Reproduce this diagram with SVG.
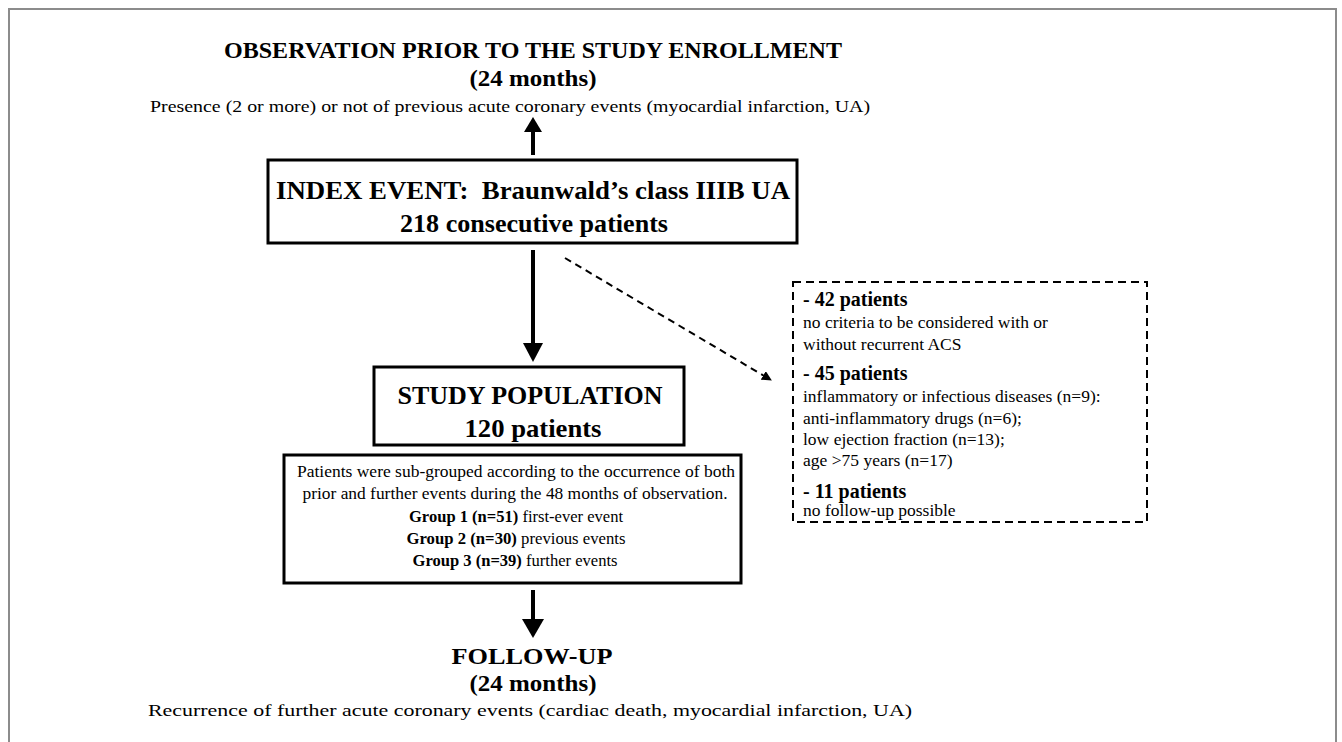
<svg xmlns="http://www.w3.org/2000/svg" width="1342" height="742" viewBox="0 0 1342 742">
<defs>
<style>
.t{font-family:"Liberation Serif","Times New Roman",serif;fill:#000}
.b{font-weight:bold}
.box{fill:#fff;stroke:#000;stroke-width:3}
.dbox{fill:none;stroke:#000;stroke-width:2;stroke-dasharray:8 5}
.shaft{stroke:#000;stroke-width:4;fill:none}
.head{fill:#000}
.eh{font-size:20px;font-weight:bold}
.eb{font-size:17.5px}
</style>
<marker id="ah" viewBox="0 0 10 10" refX="9" refY="5" markerWidth="5" markerHeight="5" orient="auto"><path d="M0,0 L10,5 L0,10 z" fill="#000"/></marker>
</defs>
<rect width="1342" height="742" fill="#fff"/>
<path d="M9,742 V9 H1336 V742" fill="none" stroke="#8c8c8c" stroke-width="2"/>

<g id="observation">
<text class="t b" x="533" y="58" font-size="23" text-anchor="middle" textLength="618" lengthAdjust="spacingAndGlyphs">OBSERVATION PRIOR TO THE STUDY ENROLLMENT</text>
<text class="t b" x="533" y="86" font-size="23" text-anchor="middle" textLength="127" lengthAdjust="spacingAndGlyphs">(24 months)</text>
<text class="t" x="510" y="112" font-size="17" text-anchor="middle" textLength="720" lengthAdjust="spacingAndGlyphs">Presence (2 or more) or not of previous acute coronary events (myocardial infarction, UA)</text>
</g>

<g id="index-event">
<rect class="box" x="268" y="160" width="529" height="83"/>
<text class="t b" x="533" y="199" font-size="25" text-anchor="middle" textLength="514" lengthAdjust="spacingAndGlyphs">INDEX EVENT:&#160; Braunwald’s class IIIB UA</text>
<text class="t b" x="534" y="232" font-size="25" text-anchor="middle" textLength="268" lengthAdjust="spacingAndGlyphs">218 consecutive patients</text>
</g>

<g id="study-population">
<rect class="box" x="374" y="367" width="310" height="78"/>
<text class="t b" x="530" y="404" font-size="25" text-anchor="middle" textLength="265" lengthAdjust="spacingAndGlyphs">STUDY POPULATION</text>
<text class="t b" x="533" y="437" font-size="25" text-anchor="middle" textLength="137" lengthAdjust="spacingAndGlyphs">120 patients</text>
</g>

<g id="subgroups">
<rect class="box" x="284" y="455" width="457" height="128"/>
<text class="t" x="516" y="477" font-size="16" text-anchor="middle" textLength="438" lengthAdjust="spacingAndGlyphs">Patients were sub-grouped according to the occurrence of both</text>
<text class="t" x="515" y="499" font-size="16" text-anchor="middle" textLength="425" lengthAdjust="spacingAndGlyphs">prior and further events during the 48 months of observation.</text>
<text class="t" x="516" y="522" font-size="16" text-anchor="middle" textLength="214" lengthAdjust="spacingAndGlyphs"><tspan class="b">Group 1 (n=51)</tspan> first-ever event</text>
<text class="t" x="516" y="544" font-size="16" text-anchor="middle" textLength="219" lengthAdjust="spacingAndGlyphs"><tspan class="b">Group 2 (n=30)</tspan> previous events</text>
<text class="t" x="515" y="566" font-size="16" text-anchor="middle" textLength="205" lengthAdjust="spacingAndGlyphs"><tspan class="b">Group 3 (n=39)</tspan> further events</text>
</g>

<g id="follow-up">
<text class="t b" x="532" y="664" font-size="23" text-anchor="middle" textLength="161" lengthAdjust="spacingAndGlyphs">FOLLOW-UP</text>
<text class="t b" x="533" y="691" font-size="23" text-anchor="middle" textLength="127" lengthAdjust="spacingAndGlyphs">(24 months)</text>
<text class="t" x="530" y="716" font-size="17" text-anchor="middle" textLength="764" lengthAdjust="spacingAndGlyphs">Recurrence of further acute coronary events (cardiac death, myocardial infarction, UA)</text>
</g>

<g id="exclusions">
<rect class="dbox" x="793" y="282" width="354" height="240"/>
<text class="t eh" x="803" y="306">- 42 patients</text>
<text class="t eb" x="803" y="328">no criteria to be considered with or</text>
<text class="t eb" x="803" y="350">without recurrent ACS</text>
<text class="t eh" x="803" y="380">- 45 patients</text>
<text class="t eb" x="803" y="402">inflammatory or infectious diseases (n=9):</text>
<text class="t eb" x="803" y="424">anti-inflammatory drugs (n=6);</text>
<text class="t eb" x="803" y="445">low ejection fraction (n=13);</text>
<text class="t eb" x="803" y="466">age &gt;75 years (n=17)</text>
<text class="t eh" x="803" y="498">- 11 patients</text>
<text class="t eb" x="803" y="516">no follow-up possible</text>
</g>

<g id="connectors">
<line class="shaft" x1="533" y1="155" x2="533" y2="130"/>
<polygon class="head" points="524,132 542,132 533,117"/>
<line class="shaft" x1="533" y1="250" x2="533" y2="345"/>
<polygon class="head" points="523,343 543,343 533,362"/>
<line class="shaft" x1="533" y1="590" x2="533" y2="621"/>
<polygon class="head" points="522,619 544,619 533,638"/>
<line x1="565" y1="258" x2="771" y2="380" stroke="#000" stroke-width="2" stroke-dasharray="7 5" marker-end="url(#ah)"/>
</g>
</svg>
